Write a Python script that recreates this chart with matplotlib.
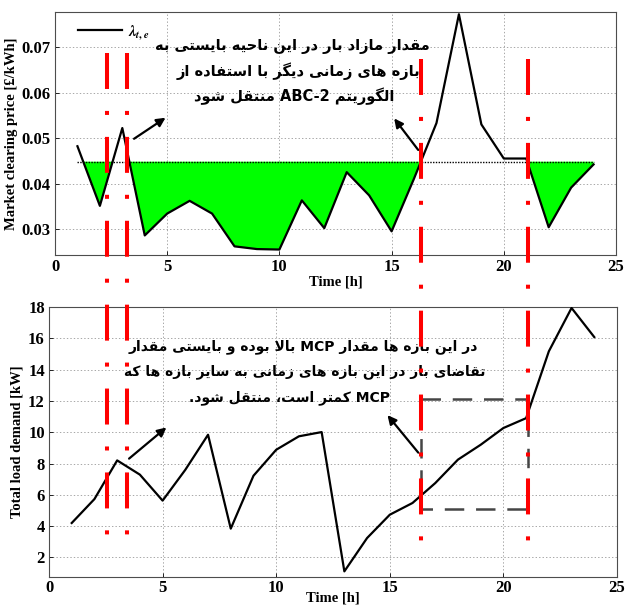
import numpy as np
import matplotlib
matplotlib.use('Agg')
import matplotlib.pyplot as plt
import matplotlib.transforms as mtransforms

hours = np.arange(1, 25)
price = [0.0482, 0.0351, 0.0522, 0.0286, 0.0334, 0.0362, 0.0334, 0.0262, 0.0256, 0.0255, 0.0363, 0.0302,
         0.0425, 0.0374, 0.0295, 0.0411, 0.0533, 0.0772, 0.0530, 0.0455, 0.0455, 0.0304, 0.0391, 0.0442]
load = [4.2, 5.73, 8.2, 7.29, 5.63, 7.6, 9.84, 3.84, 7.22, 8.88, 9.74, 10.01,
        1.11, 3.24, 4.73, 5.48, 6.75, 8.25, 9.2, 10.27, 10.9, 15.17, 17.94, 16.08]
mcp_level = 0.0448
shift_x = [2.57, 3.43, 16.38, 21.09]
box_x = [16.36, 21.07]
box_y = [5.11, 12.12]

top_note = ["مقدار مازاد بار در این ناحیه بایستی به",
            "بازه های زمانی دیگر با استفاده از",
            "الگوریتم ABC-2 منتقل شود"]
bottom_note = ["در این بازه ها مقدار MCP بالا بوده و بایستی مقدار",
               "تقاضای بار در این بازه های زمانی به سایر بازه ها که",
               "MCP کمتر است، منتقل شود."]

# matplotlib has no arabic shaping, so do it by hand (isolated, final, initial, medial)
FORMS = {
    'ا': ('\uFE8D', '\uFE8E', None, None),
    'ب': ('\uFE8F', '\uFE90', '\uFE91', '\uFE92'),
    'ت': ('\uFE95', '\uFE96', '\uFE97', '\uFE98'),
    'ح': ('\uFEA1', '\uFEA2', '\uFEA3', '\uFEA4'),
    'د': ('\uFEA9', '\uFEAA', None, None),
    'ر': ('\uFEAD', '\uFEAE', None, None),
    'ز': ('\uFEAF', '\uFEB0', None, None),
    'س': ('\uFEB1', '\uFEB2', '\uFEB3', '\uFEB4'),
    'ش': ('\uFEB5', '\uFEB6', '\uFEB7', '\uFEB8'),
    'ض': ('\uFEBD', '\uFEBE', '\uFEBF', '\uFEC0'),
    'ف': ('\uFED1', '\uFED2', '\uFED3', '\uFED4'),
    'ق': ('\uFED5', '\uFED6', '\uFED7', '\uFED8'),
    'ل': ('\uFEDD', '\uFEDE', '\uFEDF', '\uFEE0'),
    'م': ('\uFEE1', '\uFEE2', '\uFEE3', '\uFEE4'),
    'ن': ('\uFEE5', '\uFEE6', '\uFEE7', '\uFEE8'),
    'ه': ('\uFEE9', '\uFEEA', '\uFEEB', '\uFEEC'),
    'و': ('\uFEED', '\uFEEE', None, None),
    'ی': ('\uFBFC', '\uFBFD', '\uFBFE', '\uFBFF'),
    'ک': ('\uFB8E', '\uFB8F', '\uFB90', '\uFB91'),
    'گ': ('\uFB92', '\uFB93', '\uFB94', '\uFB95'),
}


def dual(c):
    return c in FORMS and FORMS[c][2] is not None


def shape(word):
    out = []
    i = 0
    while i < len(word):
        c = word[i]
        if c not in FORMS:
            out.append(c)
            i += 1
            continue
        jp = i > 0 and dual(word[i - 1])
        if c == 'ل' and i + 1 < len(word) and word[i + 1] == 'ا':
            out.append('\uFEFC' if jp else '\uFEFB')
            i += 2
            continue
        jn = dual(c) and i + 1 < len(word) and word[i + 1] in FORMS
        iso, fin, ini, med = FORMS[c]
        if jp and jn:
            out.append(med)
        elif jp:
            out.append(fin)
        elif jn:
            out.append(ini)
        else:
            out.append(iso)
        i += 1
    return ''.join(out)


def visual(line):
    words = []
    for w in reversed(line.split(' ')):
        if any(ch in FORMS for ch in w):
            words.append(shape(w)[::-1])
        else:
            words.append(w)
    return ' '.join(words)


plt.rcParams['font.family'] = 'Liberation Serif'
plt.rcParams['font.weight'] = 'bold'
plt.rcParams['axes.labelweight'] = 'bold'
plt.rcParams['mathtext.fontset'] = 'stix'
plt.rcParams['lines.scale_dashes'] = False

fig = plt.figure(figsize=(6.25, 6.08), dpi=100)
ax1 = fig.add_axes([0.088, 0.5806, 0.8976, 0.3997])
ax2 = fig.add_axes([0.0784, 0.051, 0.9088, 0.444])

grid_kw = dict(linestyle=(0, (1, 1.5)), color='0.6', linewidth=0.6)

# --- top: market clearing price
ax1.fill_between(hours, mcp_level, 0.0777, color='white', zorder=1.5, lw=0)
ax1.fill_between(hours, price, mcp_level, where=np.array(price) < mcp_level,
                 interpolate=True, color='#00ff00', lw=0, zorder=2)
ax1.plot(hours, [mcp_level] * len(hours), color='k', lw=1, linestyle=(0, (1, 1)), zorder=2.5)
ax1.plot(hours, price, color='k', lw=1.6, label=r'$\lambda_{t,e}$', zorder=3)
ax1.set_xlim(0, 25)
ax1.set_ylim(0.0243, 0.0777)
ax1.set_xticks(range(0, 26, 5))
ax1.set_yticks([0.03, 0.04, 0.05, 0.06, 0.07])
ax1.grid(True, **grid_kw)
ax1.set_xlabel('Time [h]', fontsize=10.5, labelpad=0)
ax1.set_ylabel('Market clearing price [£/kWh]', fontsize=10.5, labelpad=3)
ax1.legend(loc='upper left', bbox_to_anchor=(0.041, 0.955), frameon=False, borderpad=0,
           borderaxespad=0, handlelength=2.9, handletextpad=0.4, fontsize=11)
ax1.annotate('', xy=(5.03, 0.0548), xytext=(3.42, 0.0495),
             arrowprops=dict(arrowstyle='-|>', color='k', lw=1.6, mutation_scale=13), zorder=4)
ax1.annotate('', xy=(15.04, 0.0548), xytext=(16.26, 0.0469),
             arrowprops=dict(arrowstyle='-|>', color='k', lw=1.6, mutation_scale=13), zorder=4)
for k, (yy, xx) in enumerate(zip([0.0702, 0.0647, 0.0592], [10.6, 10.85, 10.65])):
    ax1.text(xx, yy, visual(top_note[k]), ha='center', va='center', fontsize=10.5,
             family='DejaVu Sans', fontweight='bold', zorder=5)

# --- bottom: total load demand
ax2.plot(hours, load, color='k', lw=1.6, zorder=3)
ax2.plot([box_x[0], box_x[1], box_x[1], box_x[0], box_x[0]],
         [box_y[1], box_y[1], box_y[0], box_y[0], box_y[1]],
         color='#454545', lw=1.8, linestyle=(0, (14, 8.5)), zorder=2.5)
ax2.set_xlim(0, 25)
ax2.set_ylim(0.75, 18)
ax2.set_xticks(range(0, 26, 5))
ax2.set_yticks(range(2, 19, 2))
ax2.grid(True, **grid_kw)
ax2.set_xlabel('Time [h]', fontsize=10.5, labelpad=-3)
ax2.set_ylabel('Total load demand [kW]', fontsize=10.5, labelpad=3)
ax2.annotate('', xy=(5.26, 10.42), xytext=(3.43, 8.2),
             arrowprops=dict(arrowstyle='-|>', color='k', lw=1.6, mutation_scale=13), zorder=4)
ax2.annotate('', xy=(14.82, 11.23), xytext=(16.33, 8.56),
             arrowprops=dict(arrowstyle='-|>', color='k', lw=1.6, mutation_scale=13), zorder=4)
for k, (yy, xx) in enumerate(zip([15.46, 13.86, 12.2], [11.2, 11.25, 10.6])):
    ax2.text(xx, yy, visual(bottom_note[k]), ha='center', va='center', fontsize=10,
             family='DejaVu Sans', fontweight='bold', zorder=5)

for ax in (ax1, ax2):
    ax.tick_params(direction='in', length=3, width=0.6, labelsize=12, pad=3)
    for lab in ax.get_xticklabels() + ax.get_yticklabels():
        lab.set_fontweight('bold')
    for s in ax.spines.values():
        s.set_linewidth(0.8)
        s.set_color('0.3')
ax2.tick_params(axis='x', pad=2)

# red dash-dot markers that run across both panels
trans = mtransforms.blended_transform_factory(ax2.transData, ax2.transAxes)
for k, xs in enumerate(shift_x):
    top, bot = (1.941, 0.14) if k < 2 else (1.919, 0.125)
    ax2.plot([xs, xs], [top, bot], transform=trans, color='red', lw=2.9,
             linestyle=(0, (25.9, 15.8, 2.9, 15.8)), clip_on=False, zorder=6)

fig.savefig('out.png', dpi=100)
